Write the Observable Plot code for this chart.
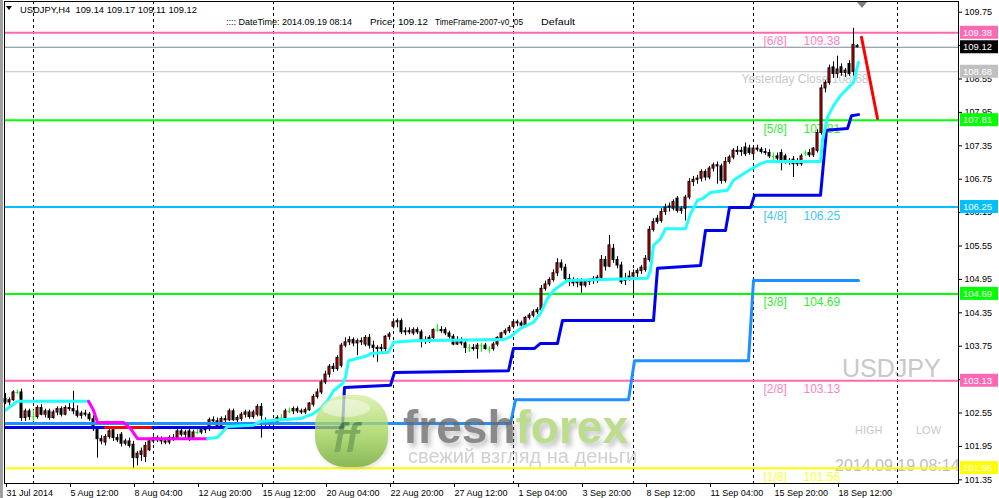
<!DOCTYPE html>
<html><head><meta charset="utf-8">
<script src="https://cdn.jsdelivr.net/npm/d3@7"></script>
<script src="https://cdn.jsdelivr.net/npm/@observablehq/plot@0.6"></script>
<style>
html,body{margin:0;padding:0;background:#fff;}
#chart{position:relative;width:999px;height:498px;overflow:hidden;}
#chart svg text{white-space:pre;}
</style></head><body><div id="chart"></div>
<script>
// ---- OHLC data (USDJPY H4, 31 Jul 2014 20:00 .. 19 Sep 2014 08:00) ----
const open=[102.80,102.74,102.78,102.92,102.92,102.46,102.58,102.48,102.48,102.64,102.52,102.58,102.46,102.56,102.62,102.52,102.64,102.62,102.58,102.50,
102.54,102.52,102.44,102.26,102.08,102.02,102.12,102.24,102.10,102.16,102.00,102.04,101.98,101.74,101.80,101.76,101.88,102.04,102.10,102.06,
102.04,102.02,102.10,102.10,102.22,102.16,102.22,102.10,102.20,102.20,102.24,102.26,102.42,102.40,102.32,102.44,102.42,102.58,102.42,102.44,
102.52,102.56,102.48,102.52,102.66,102.40,102.34,102.36,102.38,102.46,102.46,102.58,102.58,102.62,102.58,102.56,102.60,102.70,102.84,102.92,
103.10,103.24,103.38,103.34,103.40,103.76,103.82,103.86,103.80,103.84,103.78,103.90,103.76,103.72,103.70,103.70,103.92,104.10,104.18,104.20,
104.00,104.02,103.98,104.04,104.00,103.86,103.84,103.90,104.04,104.04,104.04,103.98,103.92,103.78,103.86,103.80,103.72,103.72,103.70,103.76,
103.76,103.70,103.70,103.78,103.90,103.98,104.02,104.10,104.18,104.16,104.12,104.26,104.30,104.36,104.40,104.78,104.86,104.94,105.06,105.24,
105.16,104.96,104.90,104.88,104.92,104.84,104.90,104.92,104.96,104.98,105.30,105.18,105.50,105.30,105.20,104.92,104.96,105.00,105.06,105.10,
105.12,105.30,105.84,106.04,106.00,106.16,106.24,106.22,106.40,106.18,106.22,106.42,106.70,106.74,106.76,106.88,106.78,106.94,107.00,106.98,
106.72,107.06,107.14,107.26,107.24,107.32,107.30,107.20,107.30,107.28,107.24,107.22,107.16,107.16,107.22,107.16,107.08,107.10,107.06,107.02,
107.22,107.22,107.18,107.26,107.58,108.38,108.48,108.76,108.64,108.76,108.66,108.82,108.68,109.14];
const high=[102.90,102.82,102.95,102.96,102.98,102.62,102.62,102.60,102.68,102.70,102.62,102.62,102.60,102.66,102.66,102.68,102.72,102.94,102.68,102.58,
102.60,102.56,102.50,102.30,102.14,102.16,102.26,102.30,102.16,102.20,102.08,102.10,102.04,101.86,101.92,102.02,102.06,102.12,102.14,102.12,
102.10,102.14,102.16,102.26,102.26,102.24,102.26,102.24,102.26,102.28,102.30,102.46,102.48,102.46,102.48,102.50,102.62,102.62,102.50,102.56,
102.60,102.60,102.60,102.70,102.72,102.46,102.40,102.42,102.50,102.52,102.62,102.64,102.66,102.66,102.62,102.64,102.74,102.88,102.98,103.14,
103.30,103.42,103.44,103.58,103.80,103.90,103.92,103.90,103.88,103.90,103.94,103.96,103.84,103.76,103.78,103.94,104.00,104.24,104.24,104.24,
104.08,104.08,104.08,104.08,104.04,103.92,103.94,104.06,104.14,104.10,104.08,104.02,103.96,103.92,103.90,103.84,103.78,103.78,103.80,103.80,
103.80,103.74,103.82,103.92,104.00,104.06,104.12,104.22,104.22,104.20,104.28,104.34,104.40,104.44,104.84,104.92,104.98,105.12,105.32,105.30,
105.22,105.04,104.98,104.96,104.96,104.94,104.96,105.00,105.02,105.38,105.36,105.74,105.58,105.36,105.26,105.06,105.10,105.12,105.14,105.20,
105.38,105.90,106.04,106.10,106.22,106.30,106.32,106.38,106.44,106.26,106.46,106.76,106.80,106.82,106.92,106.92,106.98,107.04,107.06,107.02,
107.14,107.18,107.30,107.34,107.32,107.40,107.36,107.34,107.36,107.32,107.30,107.28,107.22,107.22,107.28,107.20,107.12,107.16,107.12,107.20,
107.26,107.28,107.32,107.64,108.44,108.52,108.80,108.86,108.96,108.82,108.74,108.88,109.46,109.17];
const low=[102.70,102.68,102.76,102.88,102.40,102.40,102.42,102.40,102.44,102.50,102.46,102.42,102.44,102.50,102.48,102.50,102.58,102.52,102.46,102.44,
102.48,102.40,102.22,101.74,101.98,101.96,102.08,102.04,102.02,101.94,101.96,101.92,101.56,101.60,101.68,101.66,101.86,102.00,102.02,101.98,
101.98,101.98,102.04,102.06,102.12,102.10,102.04,102.08,102.16,102.16,102.18,102.22,102.36,102.28,102.28,102.38,102.40,102.40,102.38,102.40,
102.46,102.44,102.44,102.48,102.10,102.28,102.30,102.30,102.34,102.40,102.42,102.54,102.52,102.54,102.52,102.52,102.58,102.66,102.80,102.88,
103.06,103.18,103.28,103.30,103.36,103.72,103.76,103.74,103.58,103.76,103.74,103.70,103.54,103.46,103.64,103.66,103.86,104.06,104.08,103.96,
103.94,103.96,103.94,103.96,103.72,103.78,103.80,103.86,104.00,103.98,103.94,103.88,103.76,103.76,103.76,103.62,103.64,103.66,103.52,103.64,
103.68,103.62,103.66,103.74,103.86,103.94,103.98,104.06,104.10,104.08,104.08,104.22,104.26,104.32,104.36,104.74,104.82,104.90,105.00,105.10,
104.90,104.82,104.82,104.80,104.70,104.80,104.84,104.86,104.88,104.94,105.10,105.16,105.24,105.14,104.86,104.84,104.92,104.68,104.98,105.04,
105.08,105.26,105.80,105.94,105.96,106.10,106.16,106.18,106.14,106.12,106.00,106.38,106.62,106.66,106.70,106.72,106.74,106.88,106.66,106.66,
106.68,107.02,107.10,107.18,107.16,107.16,107.18,107.14,107.24,107.20,107.18,107.12,107.08,107.08,106.90,107.02,107.00,106.78,106.98,106.98,
107.16,107.14,107.14,107.22,107.54,108.30,108.44,108.56,108.56,108.60,108.58,108.60,108.60,109.11];
const close=[102.74,102.78,102.92,102.92,102.46,102.58,102.48,102.48,102.64,102.52,102.58,102.46,102.56,102.62,102.52,102.64,102.62,102.58,102.50,102.54,
102.52,102.44,102.26,102.08,102.04,102.12,102.22,102.10,102.06,102.00,102.04,101.96,101.74,101.82,101.86,101.96,102.04,102.10,102.06,102.04,
102.02,102.10,102.08,102.22,102.16,102.20,102.10,102.20,102.20,102.24,102.26,102.42,102.40,102.32,102.44,102.42,102.58,102.42,102.46,102.52,
102.56,102.48,102.56,102.66,102.50,102.34,102.36,102.38,102.46,102.46,102.58,102.58,102.62,102.58,102.56,102.60,102.72,102.84,102.92,103.10,
103.24,103.38,103.34,103.54,103.76,103.82,103.86,103.80,103.84,103.82,103.90,103.76,103.72,103.70,103.72,103.92,103.96,104.18,104.20,104.00,
104.02,104.00,104.04,104.00,103.86,103.84,103.90,104.04,104.04,104.02,103.98,103.92,103.78,103.86,103.80,103.72,103.72,103.70,103.76,103.76,
103.70,103.70,103.78,103.90,103.98,104.02,104.08,104.18,104.16,104.12,104.26,104.30,104.36,104.40,104.78,104.86,104.94,105.06,105.24,105.16,
104.96,104.90,104.88,104.92,104.84,104.90,104.92,104.96,104.98,105.30,105.18,105.56,105.30,105.20,104.90,104.96,105.00,105.06,105.10,105.16,
105.32,105.84,105.98,105.98,106.16,106.24,106.26,106.34,106.18,106.22,106.42,106.70,106.74,106.76,106.88,106.78,106.94,107.00,106.98,106.72,
107.06,107.14,107.26,107.24,107.26,107.20,107.22,107.30,107.28,107.24,107.22,107.16,107.16,107.12,107.08,107.08,107.06,107.02,107.02,107.16,
107.22,107.18,107.30,107.58,108.38,108.48,108.74,108.64,108.72,108.66,108.70,108.64,109.16,109.12];

// ---- time axis ----
const xTickIdx=[0,16,32,48,64,80,96,112,128,144,160,176,192,208];
const xTickLabels=["31 Jul 2014","5 Aug 12:00","8 Aug 04:00","12 Aug 20:00","15 Aug 12:00","20 Aug 04:00","22 Aug 20:00","27 Aug 12:00","1 Sep 04:00","3 Sep 20:00","8 Sep 12:00","11 Sep 04:00","15 Sep 20:00","18 Sep 12:00"];
const gridIdx=[7,37,67,97,127,157,187,223];
const yTicks=[101.35,101.95,102.55,103.15,103.75,104.35,104.95,105.55,106.15,106.75,107.35,107.95,108.55,109.15,109.75];

// ---- Murrey Math levels ----
const mmVals=[109.38,107.81,106.25,104.69,103.13,101.56];
const mmNames=["[6/8]","[5/8]","[4/8]","[3/8]","[2/8]","[1/8]"];
const mmColors=["#ff69b4","#00ff00","#00bfff","#00ff00","#ff69b4","#ffff00"];
const mmTextColors=["#ff7fc0","#33ee33","#45c4f4","#33ee33","#ff7fc0","#ffff33"];
const priceNow=109.12, yesterdayClose=108.68;

// ---- indicator lines (bar index, value) ----
const cyanAIdx=[0,2.5,3.25,20.75], cyanAVal=[102.60,102.74,102.76,102.76];
const magIdx=[20.75,22,23,29.5,31.25,33,50.5], magVal=[102.76,102.60,102.38,102.38,102.27,102.09,102.09];
const cyanBIdx=[50.5,53,55.5,62,63.75,73.75,77,78.75,80.5,82,84.25,85,85.75,90.5,91.25,95.75,97,102,124.5,126.25,128.75,132,133.75,135.5,137,139.5,140.5,160.5,161.25,162,163.75,165,170,171.25,173,174.25,176.25,180.5,182,185,188.75,190.5,203.75,204.25,205.5,207,208.75,210.75,212,213.25];
const cyanBVal=[102.09,102.11,102.31,102.33,102.40,102.45,102.54,102.63,102.77,102.95,103.08,103.19,103.49,103.58,103.62,103.64,103.82,103.85,103.87,103.92,104.07,104.18,104.34,104.61,104.75,104.88,104.93,104.97,105.11,105.56,105.68,105.86,105.86,106.13,106.37,106.40,106.51,106.55,106.73,106.87,107.03,107.07,107.07,107.45,107.86,108.07,108.25,108.40,108.49,108.85];
const dblueIdx=[-0.5,84.25,84.75,96.25,97.25,125.75,127,132.25,133.75,138,139.25,162,163,173.75,175,180,181,186.25,187.25,203.75,205.25,210.5,211.5,213.25];
const dblueVal=[102.29,102.29,103.01,103.05,103.28,103.31,103.71,103.71,103.80,103.80,104.21,104.21,105.15,105.20,105.83,105.83,106.24,106.24,106.46,106.46,107.63,107.66,107.89,107.91];
const redSegIdx=[25,36.25], redSegVal=[102.29,102.29];
const lblueIdx=[-0.5,126.25,127.5,155.75,157.25,185.75,187,213.25];
const lblueVal=[102.36,102.36,102.79,102.79,103.49,103.49,104.93,104.93];
const projIdx=[214,218], projVal=[109.30,107.84];

// ---- axis label boxes ----
const boxVals=[109.38,109.12,108.68,107.81,106.25,104.69,103.13,101.56];
const boxColors=["#ff69b4","#000000","#c0c0c0","#00ff00","#00bfff","#00ff00","#ff69b4","#ffff00"];

const bars=close.map((c,i)=>({i,o:open[i],h:high[i],l:low[i],c}));
const isDoji=d=>Math.abs(d.o-d.c)<0.005;
const bodies=bars.filter(d=>!isDoji(d));
const dojis=bars.filter(isDoji);
const pts=(a,b)=>a.map((x,k)=>[x,b[k]]);
const lastIdx=close.length-1;
const font="'Liberation Sans', Arial, sans-serif";

const plot=Plot.plot({
  width:999,height:498,
  marginLeft:4,marginRight:41,marginTop:1,marginBottom:15,
  x:{type:"linear",domain:[-0.25,238.25],axis:null},
  y:{type:"linear",domain:[101.284,109.942],axis:null},
  color:{type:"identity"},
  style:{fontFamily:font,fontSize:"9px",background:"#fff",overflow:"visible",color:"#000"},
  marks:[
    Plot.ruleX(gridIdx,{x:d=>d,stroke:"#000",strokeDasharray:"3,3"}),
    Plot.ruleY(mmVals,{y:d=>d,stroke:(d,i)=>mmColors[i],strokeWidth:2}),
    Plot.ruleY([yesterdayClose],{y:d=>d,stroke:"#c0c0c0"}),
    Plot.ruleY([priceNow],{y:d=>d,stroke:"#778899"}),
    Plot.text(mmVals,{x:()=>lastIdx-24,y:d=>d,text:(d,i)=>mmNames[i],fill:(d,i)=>mmTextColors[i],textAnchor:"start",lineAnchor:"bottom",dy:12.5,dx:2,fontSize:12}),
    Plot.text(mmVals,{x:()=>lastIdx-14,y:d=>d,text:d=>d.toFixed(2),fill:(d,i)=>mmTextColors[i],textAnchor:"start",lineAnchor:"bottom",dy:12.5,dx:2,fontSize:12}),
    Plot.text([yesterdayClose],{x:()=>lastIdx-29,y:d=>d,text:d=>"Yesterday Close "+d.toFixed(2),fill:"#c8c8c8",textAnchor:"start",lineAnchor:"bottom",dy:11,fontSize:12}),
    Plot.ruleX(bars,{x:"i",y1:"l",y2:"h",stroke:d=>isDoji(d)?"#00ff00":"#000"}),
    Plot.rect(bodies,{x1:d=>d.i-0.25,x2:d=>d.i+0.25,y1:d=>Math.min(d.o,d.c),y2:d=>Math.max(d.o,d.c),fill:d=>d.c>d.o?"#ff0000":"#000",stroke:"#000",strokeWidth:1,inset:0}),
    Plot.ruleY(dojis,{y:"o",x1:d=>d.i-0.375,x2:d=>d.i+0.375,stroke:"#00ff00"}),
    Plot.line(pts(lblueIdx,lblueVal),{stroke:"#1e90ff",strokeWidth:3,clip:true}),
    Plot.line(pts(dblueIdx,dblueVal),{stroke:"#0000f0",strokeWidth:3,clip:true}),
    Plot.line(pts(redSegIdx,redSegVal),{stroke:"#ff0000",strokeWidth:3}),
    Plot.line(pts(cyanAIdx,cyanAVal),{stroke:"#22ffff",strokeWidth:3}),
    Plot.line(pts(magIdx,magVal),{stroke:"#ff00ff",strokeWidth:3}),
    Plot.line(pts(cyanBIdx,cyanBVal),{stroke:"#22ffff",strokeWidth:3}),
    Plot.line(pts(projIdx,projVal),{stroke:"#ff0000",strokeWidth:3}),
    Plot.axisY({anchor:"right",ticks:yTicks,tickFormat:d=>d.toFixed(2),tickSize:3,tickPadding:3,fontSize:9,label:null}),
    Plot.axisX({anchor:"bottom",ticks:xTickIdx,tickFormat:d=>xTickLabels[xTickIdx.indexOf(d)],tickSize:4,tickPadding:2,textAnchor:"start",dx:1,fontSize:9,label:null}),
    Plot.frame({stroke:"#000"})
  ]
});
document.getElementById("chart").appendChild(plot);

const svg=d3.select(plot);
const ys=plot.scale("y");

// watermark texts underneath
const defs0=svg.insert("defs",":first-child");
defs0.append("clipPath").attr("id","pc").append("rect").attr("x",4).attr("y",1).attr("width",954).attr("height",482);
const under=svg.insert("g","defs + *").attr("font-family",font).attr("text-anchor","start").attr("clip-path","url(#pc)");
under.append("text").attr("x",842).attr("y",377).attr("font-size",25).attr("fill","#c8c8c8").text("USDJPY");
under.append("text").attr("x",855).attr("y",434).attr("font-size",11).attr("fill","#c8c8c8").text("HIGH");
under.append("text").attr("x",916).attr("y",434).attr("font-size",11).attr("fill","#c8c8c8").text("LOW");
under.append("text").attr("x",835).attr("y",471).attr("font-size",16).attr("fill","#c0c0c0").text("2014.09.19 08:14");

// freshforex watermark
const defs=svg.append("defs");
const lg=defs.append("linearGradient").attr("id","lg").attr("x1",0).attr("y1",0).attr("x2",0).attr("y2",1);
lg.append("stop").attr("offset","0").attr("stop-color","#d6efa0");
lg.append("stop").attr("offset","0.55").attr("stop-color","#9fd155");
lg.append("stop").attr("offset","1").attr("stop-color","#6aa52a");
defs.append("filter").attr("id","bl").append("feGaussianBlur").attr("stdDeviation",2);
const sh=defs.append("filter").attr("id","sh").attr("x","-10%").attr("y","-20%").attr("width","130%").attr("height","160%");
sh.append("feDropShadow").attr("dx",3).attr("dy",4).attr("stdDeviation",2.5).attr("flood-color","#777").attr("flood-opacity",0.55);
const logo=svg.append("g").attr("opacity",0.78).attr("font-family",font).attr("text-anchor","start");
logo.append("rect").attr("x",317).attr("y",399).attr("width",72).attr("height",70).attr("rx",30).attr("fill","#888").attr("opacity",0.35).attr("filter","url(#bl)");
logo.append("rect").attr("x",315).attr("y",395).attr("width",73).attr("height",72).attr("rx",30).attr("fill","url(#lg)");
logo.append("ellipse").attr("cx",346).attr("cy",408).attr("rx",24).attr("ry",9).attr("fill","#fff").attr("opacity",0.45);
logo.append("text").attr("x",333).attr("y",452).attr("font-size",40).attr("font-weight","bold").attr("font-style","italic").attr("fill","#4f8a2b").attr("opacity",0.85).text("ff");
const ff=logo.append("text").attr("x",403).attr("y",443).attr("font-size",46).attr("font-weight","bold").attr("filter","url(#sh)");
ff.append("tspan").attr("fill","#6a6a6a").text("fresh");
ff.append("tspan").attr("fill","#a8d46c").text("forex");
logo.append("text").attr("x",408).attr("y",463).attr("font-size",20).attr("fill","#c4c4c4").text("свежий взгляд на деньги");

// right axis price boxes
const bx=svg.append("g").attr("font-family",font).attr("font-size",9.5).attr("text-anchor","start");
boxVals.forEach((v,k)=>{
  const y=ys.apply(v);
  bx.append("rect").attr("x",960).attr("y",y-6.5).attr("width",38).attr("height",13).attr("fill",boxColors[k]);
  bx.append("text").attr("x",963).attr("y",y+3.5).attr("fill","#fff").text(v.toFixed(2));
});

// header
svg.append("rect").attr("x",0).attr("y",0).attr("width",3).attr("height",498).attr("fill","#a0a0a0");
const hd=svg.append("g").attr("font-family",font).attr("font-size",9.5).attr("fill","#000").attr("text-anchor","start");
hd.append("path").attr("d","M6,6 L12,6 L9,10 Z").attr("fill","#000");
const hdr=[["USDJPY,H4  109.14 109.17 109.11 109.12",20,13,177],[":::: DateTime: 2014.09.19 08:14",226,25,126],["Price: 109.12",370,25,58],["TimeFrame-2007-v0_05",435,25,88],["Default",541,25,34]];
hdr.forEach(([t,x,y,len])=>hd.append("text").attr("x",x).attr("y",y).attr("textLength",len).attr("lengthAdjust","spacingAndGlyphs").text(t));
svg.append("path").attr("d","M857,2 L867,2 L862,8 Z").attr("fill","#808080");
</script>
</body></html>
